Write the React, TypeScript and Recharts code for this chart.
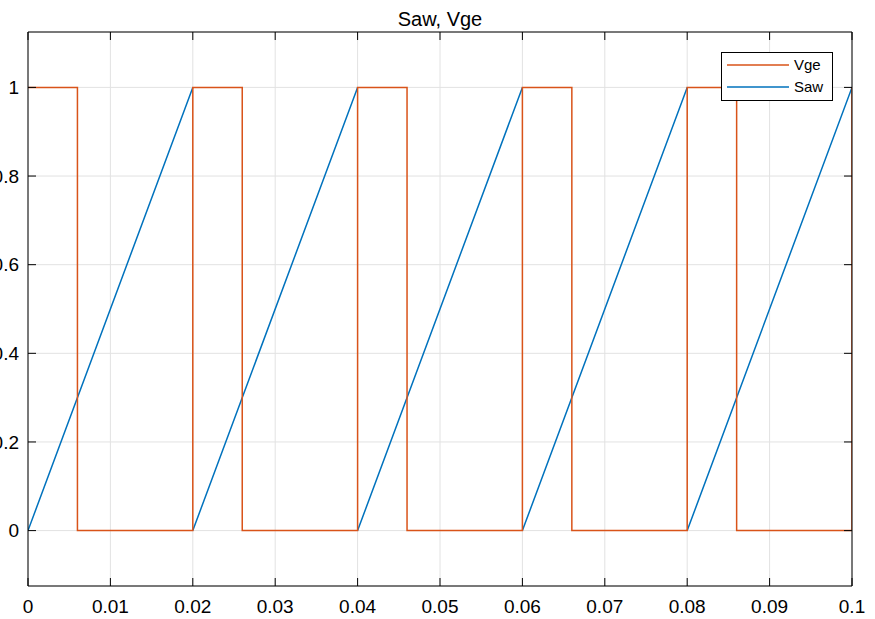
import React from 'react';
import { LineChart, Line, XAxis, YAxis, CartesianGrid, Legend } from 'recharts';

const vgeTimes = [0, 0.006, 0.02, 0.026, 0.04, 0.046, 0.06, 0.066, 0.08, 0.086, 0.1];
const vgeValues = [1, 0, 1, 0, 1, 0, 1, 0, 1, 0, 1];
const sawTimes = [0, 0.02, 0.02, 0.02, 0.04, 0.04, 0.04, 0.06, 0.06, 0.06, 0.08, 0.08, 0.08, 0.1];
const sawValues: (number | null)[] = [0, 1, null, 0, 1, null, 0, 1, null, 0, 1, null, 0, 1];

const xTicks = [0, 0.01, 0.02, 0.03, 0.04, 0.05, 0.06, 0.07, 0.08, 0.09, 0.1];
const xTickLabels = ['0', '0.01', '0.02', '0.03', '0.04', '0.05', '0.06', '0.07', '0.08', '0.09', '0.1'];
const yTicks = [0, 0.2, 0.4, 0.6, 0.8, 1];
const yTickLabels = ['0', '0.2', '0.4', '0.6', '0.8', '1'];

const titleText = 'Saw, Vge';
const VGE_COLOR = '#D95319';
const SAW_COLOR = '#0072BD';
const legendItems = [
  { name: 'Vge', color: VGE_COLOR },
  { name: 'Saw', color: SAW_COLOR },
];

const vgeData = vgeTimes.map((t, i) => ({ t, v: vgeValues[i] }));
const sawData = sawTimes.map((t, i) => ({ t, v: sawValues[i] }));

const FONT = '"Liberation Sans", Arial, Helvetica, sans-serif';
const X_DOMAIN: [number, number] = [0, 0.1];
const Y_DOMAIN: [number, number] = [-0.125, 1.125];

const EmptyTick = () => <g />;

const LegendBox = () => (
  <div
    style={{
      position: 'relative',
      width: 110,
      height: 47,
      border: '1px solid #000',
      background: '#fff',
      fontFamily: FONT,
      fontSize: 15,
      color: '#000',
    }}
  >
    {legendItems.map((it, i) => (
      <div key={it.name} style={{ position: 'absolute', left: 0, top: 3 + i * 22, height: 18, width: 110 }}>
        <svg width={70} height={18} style={{ position: 'absolute', left: 0, top: 0 }}>
          <line x1={5} y1={9} x2={67} y2={9} stroke={it.color} strokeWidth={1.5} />
        </svg>
        <span style={{ position: 'absolute', left: 72, top: 0, lineHeight: '18px' }}>{it.name}</span>
      </div>
    ))}
  </div>
);

export default function App() {
  return (
    <div style={{ position: 'absolute', left: 0, top: 0, width: 875, height: 619, background: '#fff' }}>
      <div
        style={{
          position: 'absolute',
          left: 28,
          width: 824,
          top: 9,
          textAlign: 'center',
          fontFamily: FONT,
          fontSize: 20,
          lineHeight: '20px',
          color: '#000',
        }}
      >
        {titleText}
      </div>
      <LineChart
        width={875}
        height={619}
        margin={{ top: 31, right: 22, bottom: 3, left: 8 }}
        style={{ fontFamily: FONT }}
      >
        <CartesianGrid stroke="#e2e2e2" strokeWidth={1} />
        <XAxis
          dataKey="t"
          type="number"
          domain={X_DOMAIN}
          ticks={xTicks}
          interval={0}
          allowDataOverflow
          height={30}
          tickSize={-8}
          tickMargin={22}
          stroke="#000"
          tick={{ fill: '#000', fontSize: 19 }}
          tickFormatter={(v: number, i: number) => xTickLabels[i]}
        />
        <XAxis
          xAxisId="top"
          orientation="top"
          dataKey="t"
          type="number"
          domain={X_DOMAIN}
          ticks={xTicks}
          interval={0}
          allowDataOverflow
          height={1}
          tickSize={-8}
          stroke="#000"
          tick={EmptyTick}
        />
        <YAxis
          type="number"
          domain={Y_DOMAIN}
          ticks={yTicks}
          interval={0}
          allowDataOverflow
          width={20}
          tickSize={-8}
          tickMargin={17}
          stroke="#000"
          tick={{ fill: '#000', fontSize: 19 }}
          tickFormatter={(v: number, i: number) => yTickLabels[i]}
        />
        <YAxis
          yAxisId="right"
          orientation="right"
          type="number"
          domain={Y_DOMAIN}
          ticks={yTicks}
          interval={0}
          allowDataOverflow
          width={1}
          tickSize={-8}
          stroke="#000"
          tick={EmptyTick}
        />
        <Legend
          layout="vertical"
          align="center"
          verticalAlign="middle"
          wrapperStyle={{ position: 'absolute', top: 52, left: 721, width: 112, height: 49 }}
          content={() => <LegendBox />}
        />
        <Line
          data={sawData}
          dataKey="v"
          name="Saw"
          type="linear"
          stroke={SAW_COLOR}
          strokeWidth={1.5}
          dot={false}
          activeDot={false}
          connectNulls={false}
          isAnimationActive={false}
        />
        <Line
          data={vgeData}
          dataKey="v"
          name="Vge"
          type="stepAfter"
          stroke={VGE_COLOR}
          strokeWidth={1.5}
          dot={false}
          activeDot={false}
          isAnimationActive={false}
        />
      </LineChart>
    </div>
  );
}
